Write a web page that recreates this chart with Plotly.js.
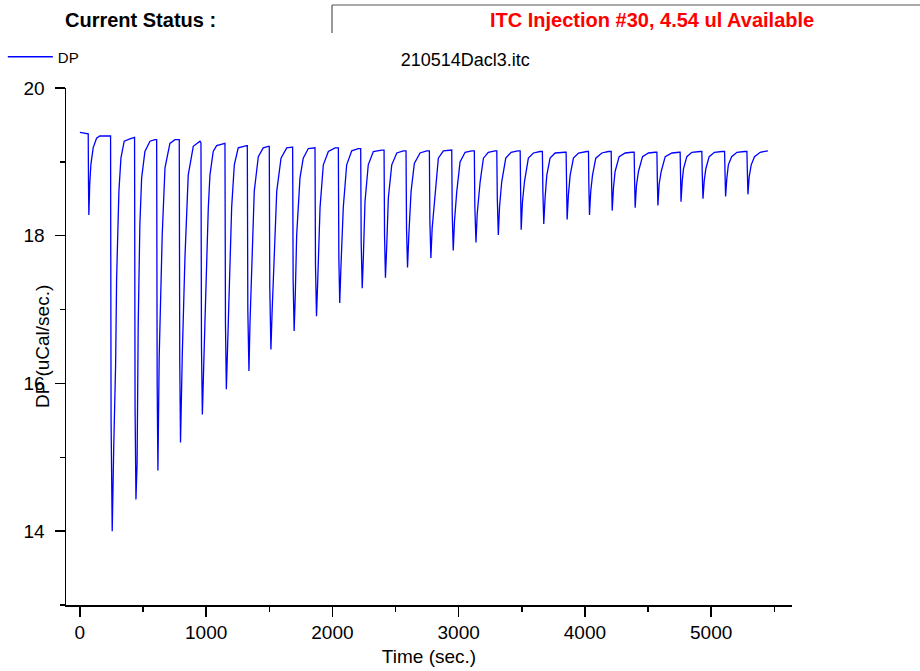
<!DOCTYPE html>
<html>
<head>
<meta charset="utf-8">
<script src="https://cdn.plot.ly/plotly-3.0.1.min.js"></script>
<style>html,body{margin:0;padding:0;background:#fff;}#chart{width:920px;height:671px;}</style>
</head>
<body>
<div id="chart"></div>
<script>
// Time (sec.) of each point, grouped per injection
var timeSec = [
  0, 61,
  66, 68, 71, 78, 87, 105, 132, 158, 238,
  243, 247, 256, 268, 283, 291, 299, 309, 325, 351, 396, 430,
  433, 437, 444, 453, 462, 475, 489, 515, 555, 594, 606,
  608, 612, 618, 628, 652, 674, 713, 753, 785,
  787, 791, 797, 811, 832, 858, 898, 951, 957,
  959, 963, 970, 990, 1004, 1017, 1030, 1056, 1083, 1136, 1147,
  1149, 1153, 1160, 1175, 1189, 1202, 1223, 1254, 1321, 1324,
  1326, 1330, 1339, 1347, 1361, 1381, 1413, 1452, 1492, 1498,
  1500, 1504, 1513, 1522, 1535, 1559, 1593, 1638, 1683,
  1685, 1689, 1697, 1706, 1717, 1743, 1769, 1809, 1849, 1860,
  1862, 1866, 1874, 1884, 1902, 1928, 1968, 2021, 2045,
  2047, 2051, 2058, 2068, 2086, 2113, 2153, 2205, 2222,
  2224, 2228, 2236, 2245, 2258, 2284, 2324, 2391, 2407,
  2409, 2413, 2420, 2430, 2443, 2470, 2510, 2562, 2581,
  2583, 2587, 2595, 2605, 2623, 2649, 2694, 2747, 2766,
  2768, 2772, 2780, 2790, 2813, 2839, 2879, 2932, 2943,
  2945, 2949, 2957, 2967, 2985, 3011, 3051, 3104, 3122,
  3124, 3128, 3137, 3147, 3170, 3196, 3235, 3288, 3300,
  3302, 3306, 3314, 3324, 3341, 3373, 3415, 3468, 3485,
  3487, 3491, 3495, 3505, 3521, 3552, 3592, 3645, 3661,
  3663, 3667, 3674, 3684, 3698, 3724, 3764, 3843, 3849,
  3851, 3855, 3859, 3869, 3883, 3909, 3949, 4015, 4026,
  4028, 4031, 4036, 4046, 4060, 4086, 4134, 4186, 4206,
  4208, 4211, 4216, 4226, 4239, 4271, 4319, 4372, 4388,
  4390, 4393, 4398, 4408, 4424, 4456, 4503, 4556, 4568,
  4570, 4573, 4578, 4588, 4604, 4636, 4689, 4747, 4752,
  4754, 4757, 4761, 4771, 4781, 4807, 4847, 4913, 4924,
  4926, 4929, 4935, 4945, 4958, 4984, 5026, 5085, 5104,
  5106, 5109, 5114, 5124, 5136, 5162, 5204, 5264, 5281,
  5283, 5286, 5291, 5301, 5317, 5343, 5388, 5449
];
// DP (uCal/sec.) at each of those times
var dpValues = [
  19.40, 19.38,
  19.38, 18.75, 18.28, 18.70, 18.96, 19.19, 19.32, 19.35, 19.35,
  19.35, 15.50, 14.00, 15.14, 16.26, 17.43, 18.01, 18.60, 19.05, 19.28, 19.31, 19.33,
  19.33, 15.70, 14.43, 14.91, 16.80, 18.15, 18.78, 19.14, 19.28, 19.30, 19.30,
  19.30, 16.00, 14.82, 16.35, 18.01, 18.92, 19.25, 19.30, 19.30,
  19.30, 16.30, 15.20, 16.39, 17.70, 18.82, 19.21, 19.28, 19.27,
  19.26, 16.50, 15.58, 16.80, 17.65, 18.38, 18.82, 19.14, 19.22, 19.25, 19.25,
  19.25, 16.80, 15.92, 16.80, 17.70, 18.38, 18.96, 19.19, 19.22, 19.22,
  19.22, 17.00, 16.17, 16.80, 17.57, 18.60, 19.07, 19.19, 19.21, 19.21,
  19.21, 17.30, 16.46, 16.95, 17.61, 18.60, 19.05, 19.19, 19.20,
  19.20, 17.40, 16.71, 17.20, 18.01, 18.78, 19.05, 19.18, 19.19, 19.19,
  19.19, 17.60, 16.91, 17.40, 18.38, 18.96, 19.14, 19.19, 19.19,
  19.19, 17.70, 17.09, 17.60, 18.38, 18.96, 19.15, 19.18, 19.18,
  19.18, 17.90, 17.29, 17.70, 18.46, 18.96, 19.14, 19.16, 19.16,
  19.16, 18.00, 17.43, 17.85, 18.51, 18.96, 19.12, 19.15, 19.15,
  19.15, 18.10, 17.57, 18.00, 18.60, 18.98, 19.12, 19.15, 19.15,
  19.15, 18.20, 17.70, 18.10, 18.55, 19.05, 19.15, 19.16, 19.16,
  19.16, 18.30, 17.80, 18.20, 18.60, 19.00, 19.13, 19.15, 19.15,
  19.15, 18.40, 17.91, 18.30, 18.73, 19.05, 19.13, 19.15, 19.15,
  19.15, 18.50, 18.01, 18.40, 18.73, 19.05, 19.13, 19.15, 19.15,
  19.15, 18.55, 18.08, 18.45, 18.73, 19.05, 19.12, 19.14, 19.14,
  19.14, 18.60, 18.16, 18.50, 18.82, 19.05, 19.12, 19.13, 19.13,
  19.13, 18.65, 18.22, 18.55, 18.82, 19.05, 19.12, 19.14, 19.14,
  19.14, 18.70, 18.28, 18.60, 18.82, 19.05, 19.12, 19.14, 19.14,
  19.14, 18.75, 18.34, 18.65, 18.87, 19.07, 19.12, 19.13, 19.13,
  19.13, 18.78, 18.38, 18.68, 18.87, 19.07, 19.12, 19.13, 19.13,
  19.13, 18.80, 18.41, 18.70, 18.87, 19.07, 19.12, 19.13, 19.13,
  19.13, 18.85, 18.46, 18.75, 18.91, 19.07, 19.13, 19.14, 19.14,
  19.14, 18.85, 18.50, 18.75, 18.91, 19.07, 19.13, 19.14, 19.14,
  19.14, 18.88, 18.53, 18.78, 18.96, 19.07, 19.13, 19.14, 19.14,
  19.14, 18.90, 18.56, 18.80, 18.96, 19.07, 19.13, 19.15
];

var seriesName = "DP";
var chartTitle = "210514Dacl3.itc";
var statusLabel = "Current Status :";
var statusText = "ITC Injection #30, 4.54 ul Available";
var xTitle = "Time (sec.)";
var yTitle = "DP (uCal/sec.)";

var FONT = "Liberation Sans, Arial, sans-serif";

var trace = {
  x: timeSec, y: dpValues, type: "scatter", mode: "lines", name: seriesName,
  line: {color: "#0000ff", width: 1.3}, showlegend: true
};

var layout = {
  width: 920, height: 671,
  margin: {l: 66, r: 128, t: 88, b: 66, pad: 0, autoexpand: false},
  paper_bgcolor: "#ffffff", plot_bgcolor: "#ffffff",
  font: {family: FONT, color: "#000000", size: 19},
  title: {text: chartTitle, font: {family: FONT, size: 18, color: "#000"}, x: 0.55, xref: "paper", xanchor: "center", y: 0.9106, yref: "container", yanchor: "middle"},
  showlegend: true,
  legend: {x: -0.087, xanchor: "left", y: 1.06, yanchor: "middle", bgcolor: "rgba(0,0,0,0)", borderwidth: 0, itemwidth: 45, font: {family: FONT, size: 15, color: "#000"}},
  xaxis: {
    range: [-110, 5640], showgrid: false, zeroline: false,
    showline: true, linecolor: "#000", linewidth: 1.5,
    ticks: "outside", ticklen: 10, tickwidth: 1.5, tickcolor: "#000",
    tick0: 0, dtick: 1000,
    minor: {dtick: 500, tick0: 0, ticks: "outside", ticklen: 5, tickwidth: 1.5, tickcolor: "#000", showgrid: false},
    tickfont: {family: FONT, size: 19, color: "#000"},
    title: {text: xTitle, font: {family: FONT, size: 19, color: "#000"}, standoff: 7},
    automargin: false
  },
  yaxis: {
    range: [13, 20], showgrid: false, zeroline: false,
    showline: true, linecolor: "#000", linewidth: 1.5,
    ticks: "outside", ticklen: 10, tickwidth: 1.5, tickcolor: "#000",
    tick0: 0, dtick: 2, ticklabelstandoff: 6,
    minor: {dtick: 1, tick0: 0, ticks: "outside", ticklen: 5, tickwidth: 1.5, tickcolor: "#000", showgrid: false},
    tickfont: {family: FONT, size: 19, color: "#000"},
    automargin: false
  },
  annotations: [
    {text: yTitle, xref: "paper", yref: "paper", x: -0.0325, y: 0.5, textangle: -90, showarrow: false, xanchor: "center", yanchor: "middle", font: {family: FONT, size: 19, color: "#000"}},
    {text: "<b>" + statusLabel + "</b>", xref: "paper", yref: "paper", x: 0.1033, y: 1.1315, showarrow: false, xanchor: "center", yanchor: "middle", font: {family: FONT, size: 20, color: "#000"}},
    {text: "<b>" + statusText + "</b>", xref: "paper", yref: "paper", x: 0.807, y: 1.1315, showarrow: false, xanchor: "center", yanchor: "middle", font: {family: FONT, size: 20, color: "#ff0000"}}
  ],
  shapes: [
    {type: "line", xref: "paper", yref: "paper", x0: 0.3664, x1: 0.3664, y0: 1.1605, y1: 1.1064, line: {color: "#555", width: 1.2}},
    {type: "line", xref: "paper", yref: "paper", x0: 0.3664, x1: 1.18, y0: 1.1605, y1: 1.1605, line: {color: "#555", width: 1.2}}
  ]
};

Plotly.newPlot("chart", [trace], layout, {staticPlot: true, displayModeBar: false});
</script>
</body>
</html>
